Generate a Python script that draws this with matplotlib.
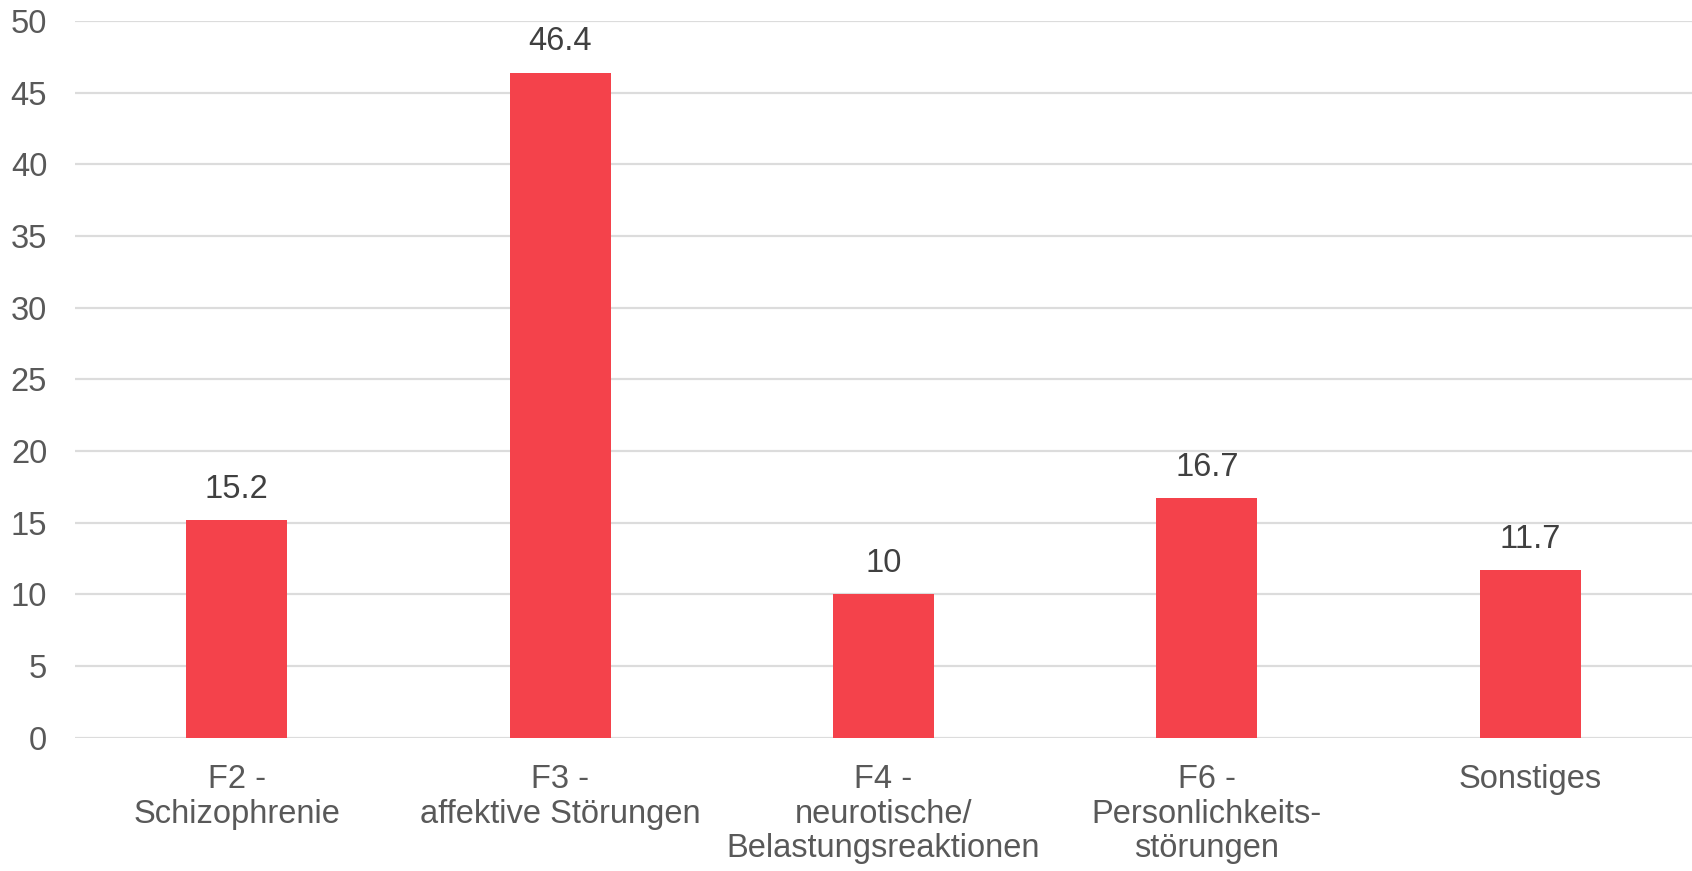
import matplotlib.pyplot as plt

categories = [
    "F2 -\nSchizophrenie",
    "F3 -\naffektive Störungen",
    "F4 -\nneurotische/\nBelastungsreaktionen",
    "F6 -\nPersonlichkeits-\nstörungen",
    "Sonstiges",
]
values = [15.2, 46.4, 10, 16.7, 11.7]
value_labels = ["15.2", "46.4", "10", "16.7", "11.7"]
y_ticks = [0, 5, 10, 15, 20, 25, 30, 35, 40, 45, 50]

plt.rcParams["font.family"] = ["Liberation Sans", "DejaVu Sans"]

fig = plt.figure(figsize=(16.92, 8.71), dpi=100)
ax = fig.add_axes([0.0443, 0.153, 0.9557, 0.823])

x = list(range(len(categories)))
bars = ax.bar(x, values, width=0.312, color="#f4424b", zorder=3)

for bar, lab in zip(bars, value_labels):
    ax.annotate(lab, (bar.get_x() + bar.get_width() / 2, bar.get_height()),
                xytext=(0, 11), textcoords="offset points",
                ha="center", va="bottom", fontsize=23.5, color="#404040")

ax.set_xlim(-0.5, len(categories) - 0.5)
ax.set_ylim(0, 50)
ax.set_yticks(y_ticks)
ax.set_xticks(x)
ax.set_xticklabels(categories, fontsize=23.5, color="#595959",
                   linespacing=1.15, ha="center", multialignment="center")
ax.tick_params(axis="y", labelsize=23.5, labelcolor="#595959", length=0, pad=20)
ax.tick_params(axis="x", length=0, pad=19)

ax.grid(axis="y", color="#dcdcdc", linewidth=1.6, zorder=0)
for s in ax.spines.values():
    s.set_visible(False)

plt.savefig("out.png", dpi=100)
